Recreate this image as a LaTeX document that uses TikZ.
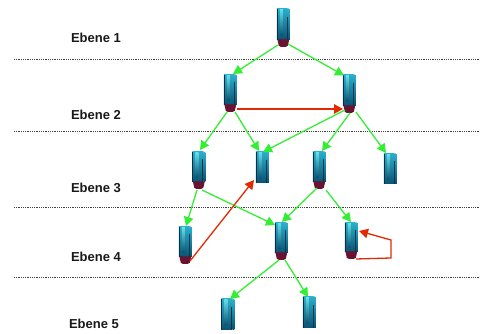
\documentclass[tikz,border=0pt]{standalone}
\usepackage{fontspec}
\setmainfont{Liberation Sans}
\usetikzlibrary{arrows.meta}
\definecolor{linkgreen}{HTML}{33EE33}
\definecolor{linkred}{HTML}{E22A00}
\definecolor{srvtop}{HTML}{2AAFCB}
\definecolor{srvbot}{HTML}{0A5272}
\definecolor{srvlight}{HTML}{6FE6EC}
\definecolor{srvdark}{HTML}{06304A}
\definecolor{srvfoot}{HTML}{6A1232}
\tikzset{
  levelrule/.style={densely dotted,line width=0.8pt,black!75},
  levellabel/.style={font=\bfseries\fontsize{13}{15}\selectfont,inner sep=0pt,text=black!90},
  srvbox/.style={rectangle,inner sep=0pt,minimum width=13pt},
  greenlink/.style={linkgreen,line width=1.3pt,-{Triangle[length=9pt,width=9.5pt]}},
  redlink/.style={linkred,line width=1.3pt,-{Triangle[length=9pt,width=9.5pt]}},
  redfat/.style={redlink,line width=1.8pt}
}
% #1 name, #2 centre x, #3 centre y, #4 body height, #5 foot height
\newcommand{\srvat}[5]{%
  \node[srvbox,minimum height={(#4+#5)*1pt}] (#1) at (#2,#3) {};
  \begin{scope}[shift={(#1.north west)}]
    \fill[black!25] (0.5,-0.8) rectangle (12,#4*0.1);
    \shade[top color=srvtop,bottom color=srvbot] (0,0) rectangle (10.5,#4);
    \fill[srvdark] (0,0.5) rectangle (1,#4);
    \shade[top color=srvlight,bottom color=srvbot,opacity=.85] (3,1) rectangle (6,#4*0.85);
    \fill[srvdark] (10,#4*0.25) rectangle (11,#4);
    \shade[top color=srvtop,bottom color=srvbot] (11,1) rectangle (13,#4*0.98);
    \ifnum#5>0
      \fill[srvfoot] (0.5,#4-0.5) -- (12.5,#4-0.5) -- (11,#4+#5-1) -- (9,#4+#5) -- (4,#4+#5) -- (2,#4+#5-1) -- cycle;
    \fi
  \end{scope}%
}
\begin{document}
\begin{tikzpicture}[x=1pt,y=-1pt]
\useasboundingbox (0,0) rectangle (483,334);
% level rules
\coordinate (r1a) at (14,59);  \coordinate (r1b) at (480,59);
\coordinate (r2a) at (14,131); \coordinate (r2b) at (480,131);
\coordinate (r3a) at (14,207); \coordinate (r3b) at (480,207);
\coordinate (r4a) at (14,277); \coordinate (r4b) at (480,277);
\draw[levelrule] (r1a) -- (r1b);
\draw[levelrule] (r2a) -- (r2b);
\draw[levelrule] (r3a) -- (r3b);
\draw[levelrule] (r4a) -- (r4b);
% labels
\node[levellabel] (l1) at (96,38) {Ebene 1};
\node[levellabel] (l2) at (96,115) {Ebene 2};
\node[levellabel] (l3) at (96,188) {Ebene 3};
\node[levellabel] (l4) at (96,257) {Ebene 4};
\node[levellabel] (l5) at (94,324) {Ebene 5};
% servers
\srvat{s1}{283.5}{28}{31}{7}
\srvat{sL}{230.5}{93.5}{30}{7}
\srvat{sR}{349.5}{94}{31}{7}
\srvat{sa}{199}{170.5}{30}{7}
\srvat{sb}{262.5}{167.5}{31}{0}
\srvat{sc}{319.5}{170.5}{30}{7}
\srvat{sd}{390.5}{169}{30}{0}
\srvat{se}{185.5}{245.5}{30}{7}
\srvat{sf}{281.5}{241.5}{30}{7}
\srvat{sg}{351.5}{241}{29}{7}
\srvat{sh}{228}{314.5}{31}{0}
\srvat{si}{309.5}{312.5}{31}{0}
% green links
\draw[greenlink] ([shift={(-5.5,17)}]s1.center) -- ([shift={(2.5,-19.5)}]sL.center);
\draw[greenlink] ([shift={(4.5,16)}]s1.center) -- ([shift={(-5.5,-18.5)}]sR.center);
\draw[greenlink] ([shift={(-3.5,18.5)}]sL.center) -- ([shift={(1,-20.5)}]sa.center);
\draw[greenlink] ([shift={(4.5,18.5)}]sL.center) -- ([shift={(-3.5,-16.5)}]sb.center);
\draw[greenlink] ([shift={(-4.5,16)}]sR.center) -- ([shift={(0.5,-15.5)}]sb.center);
\draw[greenlink] ([shift={(0.5,19)}]sR.center) -- ([shift={(2.5,-19.5)}]sc.center);
\draw[greenlink] ([shift={(6.5,18)}]sR.center) -- ([shift={(-4.5,-16)}]sd.center);
\draw[greenlink] ([shift={(-2,19.5)}]sa.center) -- ([shift={(0.5,-19.5)}]se.center);
\draw[greenlink] ([shift={(3,19.5)}]sa.center) -- ([shift={(-6.5,-16.5)}]sf.center);
\draw[greenlink] ([shift={(-2.5,17.5)}]sc.center) -- ([shift={(0.5,-19.5)}]sf.center);
\draw[greenlink] ([shift={(6.5,19.5)}]sc.center) -- ([shift={(-0.5,-19)}]sg.center);
\draw[greenlink] ([shift={(-2.5,18.5)}]sf.center) -- ([shift={(2,-15.5)}]sh.center);
\draw[greenlink] ([shift={(3.5,18.5)}]sf.center) -- ([shift={(-1.5,-15.5)}]si.center);
% red links
\draw[redfat] ([shift={(6.5,15.5)}]sL.center) -- ([shift={(-6.5,15)}]sR.center);
\draw[redlink] ([shift={(4.5,15.5)}]se.center) -- ([shift={(-8.5,12.5)}]sb.center);
\coordinate (lp1) at (391,258);
\coordinate (lp2) at (391,240);
\draw[redlink] ([shift={(4.5,18)}]sg.center) -- (lp1) -- (lp2) -- ([shift={(7.5,-10)}]sg.center);
\end{tikzpicture}
\end{document}
